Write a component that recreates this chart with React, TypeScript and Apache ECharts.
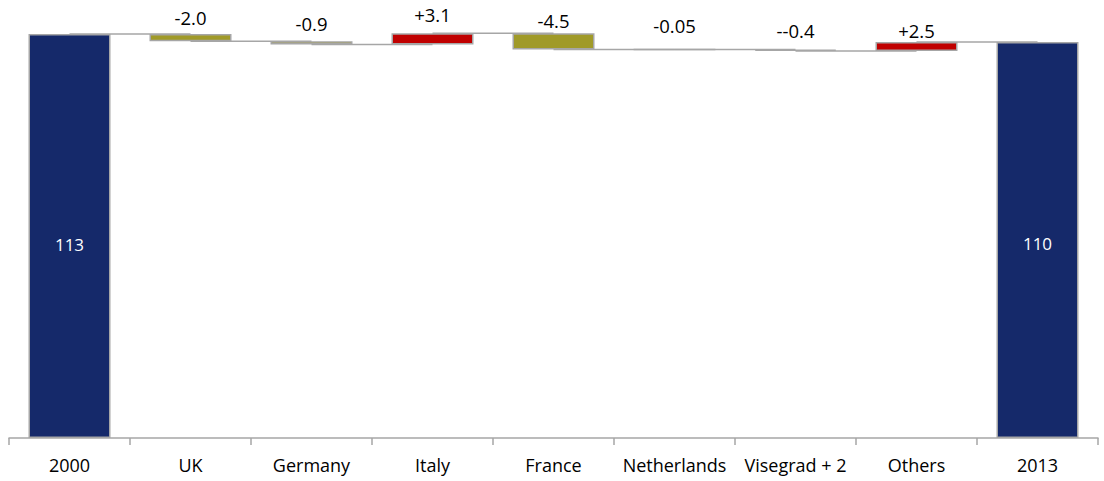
import React, { useEffect, useRef } from "react";
import * as echarts from "echarts";

const categories = ["2000", "UK", "Germany", "Italy", "France", "Netherlands", "Visegrad + 2", "Others", "2013"];
const startValue = 113;
const changes = [-2.0, -0.9, 3.1, -4.5, -0.05, -0.4, 2.5];
const changeLabels = ["-2.0", "-0.9", "+3.1", "-4.5", "-0.05", "--0.4", "+2.5"];
const totalLabels = ["113", "110"];

const NAVY = "#15296A";
const OLIVE = "#A09A28";
const RED = "#C00000";
const GREY = "#A6A6A6";
const FONT = "'Open Sans', sans-serif";
const labelGap = [7, 8, 9, 3, 14, 10, 2];

export default function App() {
  const ref = useRef<HTMLDivElement>(null);
  useEffect(() => {
    document.body.style.margin = "0";
    if (!ref.current) return;
    const chart = echarts.init(ref.current, undefined, { renderer: "svg" });

    const totals: number[] = [startValue];
    changes.forEach((c) => totals.push(totals[totals.length - 1] + c));
    const endValue = totals[totals.length - 1];

    const base: number[] = [0];
    const vis: any[] = [];
    vis.push({
      value: startValue,
      itemStyle: { color: NAVY },
      label: { show: true, position: "inside", color: "#fff", formatter: totalLabels[0], offset: [0, 8] },
    });
    changes.forEach((c, i) => {
      const prev = totals[i];
      const next = totals[i + 1];
      base.push(Math.min(prev, next));
      vis.push({
        value: Math.abs(c),
        itemStyle: { color: c >= 0 ? RED : OLIVE },
        label: {
          show: true,
          position: "top",
          distance: labelGap[i],
          color: "#000",
          fontSize: 18.5,
          formatter: changeLabels[i],
        },
      });
    });
    base.push(0);
    vis.push({
      value: endValue,
      itemStyle: { color: NAVY },
      label: { show: true, position: "inside", color: "#fff", formatter: totalLabels[1], offset: [0, 3] },
    });

    const connectors = totals.map((v, i) => [i, v]);

    chart.setOption({
      animation: false,
      grid: { left: 9, right: 6, top: 9, bottom: 43, containLabel: false },
      xAxis: {
        type: "category",
        data: categories,
        axisLine: { lineStyle: { color: GREY, width: 1.5 } },
        axisTick: { show: true, length: 7, lineStyle: { color: GREY, width: 1.5 } },
        axisLabel: {
          color: "#000",
          fontSize: 18,
          fontFamily: FONT,
          margin: 18,
          interval: 0,
        },
      },
      yAxis: { type: "value", min: 0, max: 120, show: false, splitLine: { show: false } },
      series: [
        {
          type: "bar",
          stack: "w",
          data: base,
          barWidth: 82,
          itemStyle: { color: "transparent", borderWidth: 0 },
          silent: true,
        },
        {
          type: "bar",
          stack: "w",
          data: vis,
          barWidth: 82,
          itemStyle: { borderColor: GREY, borderWidth: 1.5 },
          label: { fontSize: 17, fontFamily: FONT },
        },
        {
          type: "custom",
          data: connectors,
          z: 5,
          renderItem: (params: any, api: any) => {
            const i = api.value(0);
            const v = api.value(1);
            const p1 = api.coord([i, v]);
            const p2 = api.coord([i + 1, v]);
            return {
              type: "line",
              shape: { x1: p1[0], y1: p1[1], x2: p2[0], y2: p2[1] },
              style: { stroke: GREY, lineWidth: 1.5 },
            };
          },
        },
      ],
    });
    return () => chart.dispose();
  }, []);
  return <div ref={ref} style={{ width: 1104, height: 481 }} />;
}
